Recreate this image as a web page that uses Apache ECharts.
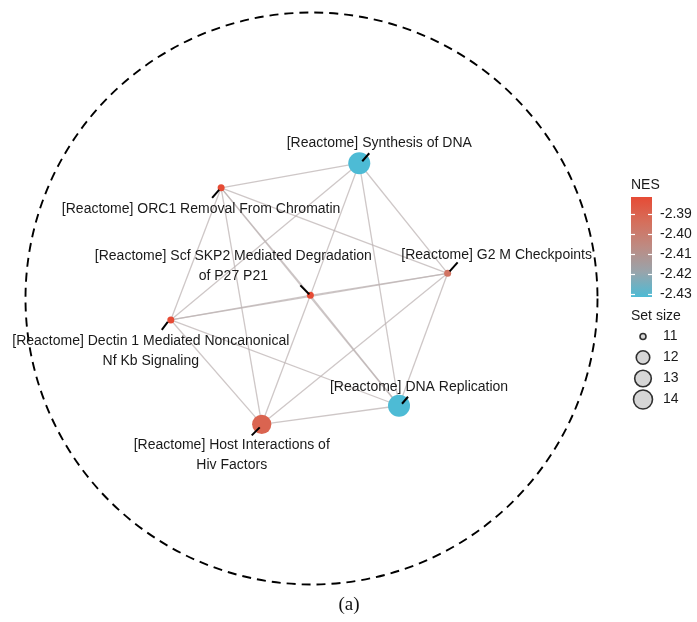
<!DOCTYPE html>
<html>
<head>
<meta charset="utf-8">
<script src="https://cdn.jsdelivr.net/npm/echarts@6/dist/echarts.min.js"></script>
<style>
  html, body { margin: 0; padding: 0; background: #fff; }
  #chart { width: 697px; height: 622px; }
</style>
</head>
<body>
<div id="chart"></div>
<script>
// Enrichment map: Reactome gene sets, layout coordinates in a unit circle
const nodeNames = [
  '[Reactome] Synthesis of DNA',
  '[Reactome] ORC1 Removal From Chromatin',
  '[Reactome] G2 M Checkpoints',
  '[Reactome] Scf SKP2 Mediated Degradation of P27 P21',
  '[Reactome] Dectin 1 Mediated Noncanonical Nf Kb Signaling',
  '[Reactome] DNA Replication',
  '[Reactome] Host Interactions of Hiv Factors'
];
const labelText = [
  '[Reactome] Synthesis of DNA',
  '[Reactome] ORC1 Removal From Chromatin',
  '[Reactome] G2 M Checkpoints',
  '[Reactome] Scf SKP2 Mediated Degradation\nof P27 P21',
  '[Reactome] Dectin 1 Mediated Noncanonical\nNf Kb Signaling',
  '[Reactome] DNA Replication',
  '[Reactome] Host Interactions of\nHiv Factors'
];
const nodeX = [0.167, -0.316, 0.476, -0.004, -0.492, 0.306, -0.174];
const nodeY = [0.473, 0.387, 0.088, 0.011, -0.075, -0.375, -0.440];
const setSize = [14, 11, 11, 11, 11, 14, 13];
const nes = [-2.4312, -2.3812, -2.396, -2.3812, -2.3812, -2.4312, -2.390];

// gene-set overlaps (node index pairs)
const edgeFrom = [0, 0, 0, 0, 0, 1, 1, 1, 1, 1, 2, 2, 2, 2, 3, 3, 3, 4, 4, 5];
const edgeTo   = [1, 2, 3, 4, 5, 2, 3, 4, 5, 6, 3, 4, 5, 6, 4, 5, 6, 5, 6, 6];

const nesMin = -2.4312;
const nesMax = -2.3812;
const nesTicks = [-2.43, -2.42, -2.41, -2.40, -2.39];
const sizeTicks = [11, 12, 13, 14];

// colour ramp, low NES -> high NES
const palette = ['#4dbbd5', '#98a4ab', '#bd8b83', '#d56f5c', '#e64b35'];

// label placement (pixel offsets from the node centre)
const labelStyle = [
  { dx: 20, dy: -20, seg: [3, -2, 10, -10] },
  { dx: -20, dy: 21, seg: [-9, 10, -2, 2] },
  { dx: 49, dy: -18, seg: [10, -11, 2, -2] },
  { dx: -77, dy: -29, seg: [-10, -10, -1, -1] },
  { dx: -20, dy: 31, seg: [-9, 10, -3, 2] },
  { dx: 20, dy: -19, seg: [3, -2, 9, -9] },
  { dx: -30, dy: 31, seg: [-10, 11, -2, 3] }
];

const FONT = '"Liberation Sans", Arial, Helvetica, sans-serif';

function plotSize(s) { return 7 + 15 * Math.sqrt((s - 11) / 3); }
function legendSize(s) { return 6 + 13 * Math.sqrt((s - 11) / 3); }

const nodeRows = nodeNames.map((n, i) => [nodeX[i], nodeY[i], setSize[i], nes[i], i]);
const edgeRows = edgeFrom.map((a, k) => {
  const b = edgeTo[k];
  return { coords: [[nodeX[a], nodeY[a]], [nodeX[b], nodeY[b]]] };
});

const chart = echarts.init(document.getElementById('chart'), null, { renderer: 'canvas' });

const option = {
  animation: false,
  backgroundColor: '#fff',
  grid: [
    { left: 25.5, top: 12.5, width: 572, height: 572 },   // network
    { left: 631, top: 197, width: 21, height: 100 },      // NES colour bar
    { left: 633, top: 326, width: 20, height: 84 }        // set size key
  ],
  xAxis: [
    { gridIndex: 0, type: 'value', min: -1, max: 1, show: false },
    { gridIndex: 1, type: 'value', min: 0, max: 1, show: false },
    { gridIndex: 2, type: 'value', min: -1, max: 1, show: false }
  ],
  yAxis: [
    { gridIndex: 0, type: 'value', min: -1, max: 1, show: false },
    {
      gridIndex: 1, type: 'value', min: nesMin, max: nesMax, position: 'left', z: 10,
      axisLine: { show: false }, splitLine: { show: false }, axisLabel: { show: false },
      axisTick: { show: true, inside: true, length: 4, customValues: nesTicks, lineStyle: { color: '#fff', width: 1.2 } }
    },
    {
      gridIndex: 1, type: 'value', min: nesMin, max: nesMax, position: 'right', z: 10,
      axisLine: { show: false }, splitLine: { show: false },
      axisTick: { show: true, inside: true, length: 4, customValues: nesTicks, lineStyle: { color: '#fff', width: 1.2 } },
      axisLabel: {
        show: true, customValues: nesTicks, margin: 8, color: '#1a1a1a', fontSize: 14, fontFamily: FONT,
        formatter: v => v.toFixed(2)
      }
    },
    {
      gridIndex: 2, type: 'category', data: sizeTicks.map(String), inverse: true, position: 'right',
      axisLine: { show: false }, axisTick: { show: false }, splitLine: { show: false },
      axisLabel: { margin: 10, color: '#1a1a1a', fontSize: 14, fontFamily: FONT }
    }
  ],
  visualMap: [{
    type: 'continuous', show: false, seriesIndex: 2, dimension: 3,
    min: nesMin, max: nesMax, inRange: { color: palette }
  }],
  graphic: [
    { type: 'text', left: 631, top: 178, style: { text: 'NES', fill: '#1a1a1a', font: '14px ' + FONT } },
    { type: 'text', left: 631, top: 309, style: { text: 'Set size', fill: '#1a1a1a', font: '14px ' + FONT } },
    { type: 'text', x: 349, y: 605, style: { text: '(a)', fill: '#111', font: '19px "Liberation Serif", "Times New Roman", serif', align: 'center', verticalAlign: 'middle' } }
  ],
  series: [
    {
      // dashed boundary circle of the layout
      type: 'custom', xAxisIndex: 0, yAxisIndex: 0, silent: true, clip: false, z: 1,
      data: [[0, 0, 1]],
      renderItem(params, api) {
        const c = api.coord([api.value(0), api.value(1)]);
        const r = api.size([api.value(2), 0])[0];
        return {
          type: 'circle', shape: { cx: c[0], cy: c[1], r: r },
          style: { fill: 'none', stroke: '#000', lineWidth: 1.9, lineDash: [9, 6] }
        };
      }
    },
    {
      type: 'lines', coordinateSystem: 'cartesian2d', xAxisIndex: 0, yAxisIndex: 0, silent: true, z: 2,
      data: edgeRows,
      lineStyle: { color: '#bdb4b4', width: 1.3, opacity: 0.75 }
    },
    {
      type: 'scatter', xAxisIndex: 0, yAxisIndex: 0, z: 3, silent: true,
      data: nodeRows,
      symbol: 'circle',
      symbolSize: v => plotSize(v[2]),
      itemStyle: { opacity: 1 }
    },
    {
      // repelled labels with leader segments
      type: 'custom', xAxisIndex: 0, yAxisIndex: 0, silent: true, clip: false, z: 5,
      data: nodeRows,
      encode: { x: 0, y: 1 },
      renderItem(params, api) {
        const i = api.value(4);
        const p = api.coord([api.value(0), api.value(1)]);
        const st = labelStyle[i];
        return {
          type: 'group',
          children: [
            {
              type: 'line',
              shape: { x1: p[0] + st.seg[0], y1: p[1] + st.seg[1], x2: p[0] + st.seg[2], y2: p[1] + st.seg[3] },
              style: { stroke: '#000', lineWidth: 2 }
            },
            {
              type: 'text', x: p[0] + st.dx, y: p[1] + st.dy,
              style: {
                text: labelText[i], fill: '#1a1a1a', font: '14px ' + FONT,
                align: 'center', verticalAlign: 'middle', lineHeight: 20
              }
            }
          ]
        };
      }
    },
    {
      // NES colour bar
      type: 'custom', xAxisIndex: 1, yAxisIndex: 1, silent: true, z: 2,
      data: [[nesMin, nesMax]],
      renderItem(params, api) {
        const lo = api.coord([0, api.value(0)]);
        const hi = api.coord([1, api.value(1)]);
        const stops = palette.map((c, k) => ({ offset: k / (palette.length - 1), color: c }));
        return {
          type: 'rect',
          shape: { x: lo[0], y: hi[1], width: hi[0] - lo[0], height: lo[1] - hi[1] },
          style: { fill: { type: 'linear', x: 0, y: 1, x2: 0, y2: 0, colorStops: stops } }
        };
      }
    },
    {
      // set size key
      type: 'scatter', xAxisIndex: 2, yAxisIndex: 3, silent: true, z: 3,
      data: sizeTicks.map(s => [0, String(s)]),
      symbol: 'circle',
      symbolSize: v => legendSize(Number(v[1])),
      itemStyle: { color: '#cccccc', borderColor: '#000', borderWidth: 1.6 }
    }
  ]
};

chart.setOption(option);
</script>
</body>
</html>
